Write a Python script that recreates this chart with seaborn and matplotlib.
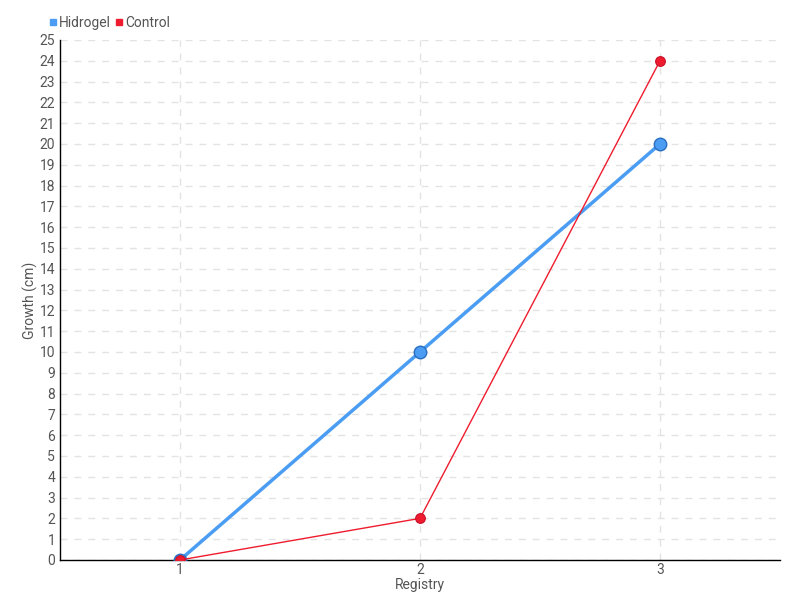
import numpy as np
import pandas as pd
import seaborn as sns
import matplotlib.pyplot as plt
from matplotlib.lines import Line2D

# =============================================================================
# Data
# =============================================================================

registry = [1, 2, 3]
hidrogel = [0, 10, 20]
control = [0, 2, 24]

df = pd.DataFrame({
    "Registry": registry * 2,
    "Growth": hidrogel + control,
    "Series": ["Hidrogel"] * 3 + ["Control"] * 3,
})

colors = {"Hidrogel": "#4a9df2", "Control": "#ee1c2e"}

# =============================================================================
# Plot
# =============================================================================

sns.set_style("white")
plt.rcParams["font.family"] = ["Roboto", "DejaVu Sans"]

fig = plt.figure(figsize=(8, 6), dpi=100)
ax = fig.add_axes([0.075, 0.0667, 0.9, 0.8667])

sub = df[df["Series"] == "Hidrogel"]
sns.lineplot(data=sub, x="Registry", y="Growth", color=colors["Hidrogel"],
             linewidth=2.5, marker="o", markersize=9, markeredgecolor="#2a6fc0",
             markeredgewidth=1, ax=ax, zorder=3)

sub = df[df["Series"] == "Control"]
sns.lineplot(data=sub, x="Registry", y="Growth", color=colors["Control"],
             linewidth=1, marker="o", markersize=7, markeredgecolor="#c8102a",
             markeredgewidth=0.8, ax=ax, zorder=4)

ax.set_xlim(0.5, 3.5)
ax.set_ylim(0, 25)
ax.set_xticks(registry)
ax.set_yticks(range(0, 26))

ax.grid(True, linestyle=(0, (5, 5)), color="#e3e3e3", linewidth=1)
ax.set_axisbelow(True)

for side in ["top", "right"]:
    ax.spines[side].set_visible(False)
for side in ["left", "bottom"]:
    ax.spines[side].set_color("black")
    ax.spines[side].set_linewidth(1)

ax.tick_params(axis="y", direction="inout", length=5, width=1, color="#333333",
               labelsize=10, labelcolor="#555555", pad=1)
ax.tick_params(axis="x", length=0, labelsize=10, labelcolor="#555555", pad=2)

ax.set_xlabel("Registry", fontsize=10, color="#555555", labelpad=1)
ax.set_ylabel("Growth (cm)", fontsize=10, color="#555555", labelpad=1)

handles = [
    Line2D([], [], linestyle="none", marker="s", markersize=5,
           color=colors["Hidrogel"], label="Hidrogel"),
    Line2D([], [], linestyle="none", marker="s", markersize=5,
           color=colors["Control"], label="Control"),
]
ax.legend(handles=handles, loc="lower left", bbox_to_anchor=(-0.03, 1.0),
          frameon=False, ncol=2, handletextpad=0.05, columnspacing=0.3,
          handlelength=0.7, prop={"size": 10}, labelcolor="#555555",
          borderaxespad=0.3)

plt.savefig("out.png", dpi=100)
